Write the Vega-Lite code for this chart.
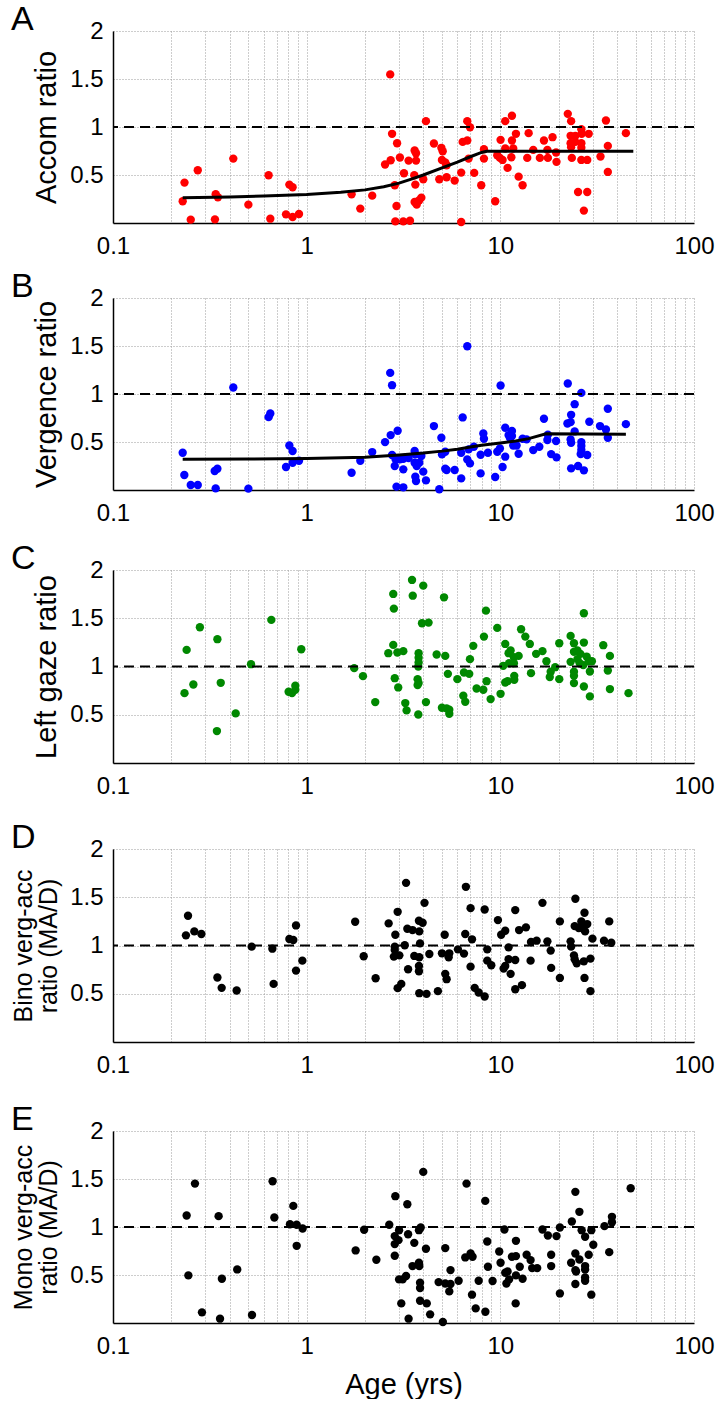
{
"$schema": "https://vega.github.io/schema/vega-lite/v6.json",
"padding": {"left": 11, "top": 3, "right": 0, "bottom": 0},
"spacing": 6,
"config": {
 "font": "Liberation Sans",
 "view": {"stroke": null},
 "axis": {"domainColor": "#000000", "domainWidth": 1.5, "ticks": false, "labelFontSize": 24, "labelColor": "#000000", "labelPadding": 10, "labelFlush": false, "labelBound": false, "titleFontSize": 29, "titleFontWeight": "normal", "titleColor": "#000000", "gridColor": "#9a9a9a", "gridDash": [1, 2], "gridWidth": 1, "labelFont": "Liberation Sans", "titleFont": "Liberation Sans"},
 "title": {"fontSize": 34, "fontWeight": "normal", "anchor": "start", "frame": "group", "dx": -102, "offset": -18, "color": "#000000", "font": "Liberation Sans", "baseline": "alphabetic"}
},
"datasets": {
 "A_pts": [{"age":0.234,"ratio":0.421},{"age":0.274,"ratio":0.55},{"age":0.229,"ratio":0.226},{"age":0.252,"ratio":0.035},{"age":0.418,"ratio":0.671},{"age":0.339,"ratio":0.299},{"age":0.348,"ratio":0.268},{"age":0.336,"ratio":0.038},{"age":0.5,"ratio":0.191},{"age":0.636,"ratio":0.497},{"age":0.649,"ratio":0.045},{"age":0.814,"ratio":0.4},{"age":0.846,"ratio":0.372},{"age":0.782,"ratio":0.09},{"age":0.846,"ratio":0.063},{"age":0.913,"ratio":0.094},{"age":1.706,"ratio":0.299},{"age":1.892,"ratio":0.15},{"age":2.18,"ratio":0.285},{"age":2.7,"ratio":1.548},{"age":2.76,"ratio":0.929},{"age":2.93,"ratio":0.831},{"age":2.715,"ratio":0.654},{"age":2.54,"ratio":0.609},{"age":2.85,"ratio":0.393},{"age":2.91,"ratio":0.177},{"age":2.87,"ratio":0.017},{"age":3.03,"ratio":0.682},{"age":3.155,"ratio":0.017},{"age":3.415,"ratio":0.024},{"age":3.18,"ratio":0.518},{"age":3.36,"ratio":0.65},{"age":3.61,"ratio":0.755},{"age":3.67,"ratio":0.727},{"age":3.67,"ratio":0.65},{"age":3.595,"ratio":0.497},{"age":3.64,"ratio":0.4},{"age":3.61,"ratio":0.219},{"age":3.7,"ratio":0.191},{"age":3.815,"ratio":0.237},{"age":3.91,"ratio":0.264},{"age":4.0,"ratio":0.456},{"age":4.13,"ratio":1.061},{"age":4.54,"ratio":0.828},{"age":4.96,"ratio":0.783},{"age":5.04,"ratio":0.748},{"age":4.995,"ratio":0.657},{"age":5.195,"ratio":0.63},{"age":5.28,"ratio":0.602},{"age":4.84,"ratio":0.456},{"age":5.28,"ratio":0.477},{"age":5.81,"ratio":0.442},{"age":6.28,"ratio":0.525},{"age":6.28,"ratio":0.01},{"age":6.39,"ratio":0.845},{"age":6.75,"ratio":0.859},{"age":6.75,"ratio":1.061},{"age":6.97,"ratio":0.998},{"age":6.86,"ratio":0.671},{"age":7.33,"ratio":0.522},{"age":7.97,"ratio":0.393},{"age":8.23,"ratio":0.769},{"age":8.23,"ratio":0.671},{"age":9.41,"ratio":0.226},{"age":9.64,"ratio":0.706},{"age":9.95,"ratio":0.678},{"age":10.03,"ratio":0.866},{"age":10.27,"ratio":0.657},{"age":10.6,"ratio":1.061},{"age":11.48,"ratio":1.117},{"age":10.6,"ratio":0.776},{"age":11.48,"ratio":0.859},{"age":10.9,"ratio":0.574},{"age":11.4,"ratio":0.685},{"age":12.04,"ratio":0.929},{"age":11.66,"ratio":0.776},{"age":12.43,"ratio":0.483},{"age":13.03,"ratio":0.393},{"age":14.0,"ratio":0.936},{"age":13.77,"ratio":0.678},{"age":14.79,"ratio":0.762},{"age":16.0,"ratio":0.678},{"age":16.8,"ratio":0.859},{"age":17.5,"ratio":0.762},{"age":17.6,"ratio":0.678},{"age":18.6,"ratio":0.894},{"age":19.4,"ratio":0.734},{"age":19.5,"ratio":0.637},{"age":22.3,"ratio":1.137},{"age":23.2,"ratio":1.061},{"age":23.06,"ratio":0.908},{"age":23.06,"ratio":0.831},{"age":23.2,"ratio":0.79},{"age":23.4,"ratio":0.678},{"age":24.4,"ratio":0.908},{"age":24.4,"ratio":0.845},{"age":26.2,"ratio":0.977},{"age":26.3,"ratio":0.929},{"age":26.2,"ratio":0.831},{"age":26.2,"ratio":0.783},{"age":26.2,"ratio":0.657},{"age":25.2,"ratio":0.323},{"age":28.1,"ratio":0.323},{"age":27.0,"ratio":0.129},{"age":28.6,"ratio":0.929},{"age":28.1,"ratio":0.657},{"age":32.9,"ratio":0.692},{"age":35.1,"ratio":1.068},{"age":35.9,"ratio":0.803},{"age":35.9,"ratio":0.532},{"age":44.5,"ratio":0.936}],
 "A_fit": [{"age":0.229,"ratio":0.262},{"age":0.4,"ratio":0.272},{"age":0.6,"ratio":0.282},{"age":1,"ratio":0.297},{"age":1.5,"ratio":0.32},{"age":2,"ratio":0.345},{"age":2.5,"ratio":0.378},{"age":3,"ratio":0.415},{"age":3.5,"ratio":0.46},{"age":4,"ratio":0.5},{"age":5,"ratio":0.575},{"age":6,"ratio":0.635},{"age":7,"ratio":0.69},{"age":8,"ratio":0.735},{"age":8.5,"ratio":0.748},{"age":48.6,"ratio":0.748}],
 "B_pts": [{"age":0.229,"ratio":0.388},{"age":0.2335,"ratio":0.156},{"age":0.252,"ratio":0.052},{"age":0.274,"ratio":0.052},{"age":0.418,"ratio":1.068},{"age":0.335,"ratio":0.198},{"age":0.346,"ratio":0.222},{"age":0.339,"ratio":0.017},{"age":0.5,"ratio":0.014},{"age":0.636,"ratio":0.759},{"age":0.649,"ratio":0.797},{"age":0.814,"ratio":0.464},{"age":0.846,"ratio":0.406},{"age":0.782,"ratio":0.239},{"age":0.846,"ratio":0.284},{"age":0.913,"ratio":0.305},{"age":1.706,"ratio":0.18},{"age":1.892,"ratio":0.305},{"age":2.18,"ratio":0.395},{"age":2.7,"ratio":1.22},{"age":2.76,"ratio":1.092},{"age":2.54,"ratio":0.499},{"age":2.715,"ratio":0.572},{"age":2.95,"ratio":0.617},{"age":2.76,"ratio":0.364},{"age":2.88,"ratio":0.319},{"age":2.85,"ratio":0.25},{"age":2.91,"ratio":0.035},{"age":3.155,"ratio":0.028},{"age":3.03,"ratio":0.319},{"age":3.155,"ratio":0.326},{"age":3.36,"ratio":0.333},{"age":3.155,"ratio":0.215},{"age":3.61,"ratio":0.406},{"age":3.64,"ratio":0.371},{"age":3.61,"ratio":0.284},{"age":3.7,"ratio":0.25},{"age":3.815,"ratio":0.284},{"age":3.91,"ratio":0.354},{"age":3.64,"ratio":0.139},{"age":3.67,"ratio":0.094},{"age":4.0,"ratio":0.191},{"age":4.13,"ratio":0.1},{"age":4.54,"ratio":0.666},{"age":4.84,"ratio":0.008},{"age":4.96,"ratio":0.544},{"age":4.995,"ratio":0.371},{"age":5.195,"ratio":0.399},{"age":5.195,"ratio":0.222},{"age":5.28,"ratio":0.208},{"age":5.81,"ratio":0.208},{"age":6.28,"ratio":0.121},{"age":6.28,"ratio":0.388},{"age":6.39,"ratio":0.756},{"age":6.75,"ratio":1.497},{"age":6.75,"ratio":0.319},{"age":6.97,"ratio":0.277},{"age":6.86,"ratio":0.423},{"age":7.3,"ratio":0.451},{"age":7.91,"ratio":0.367},{"age":7.91,"ratio":0.173},{"age":8.17,"ratio":0.589},{"age":8.23,"ratio":0.534},{"age":8.63,"ratio":0.388},{"age":9.41,"ratio":0.135},{"age":9.64,"ratio":0.399},{"age":9.95,"ratio":0.433},{"age":10.03,"ratio":1.088},{"age":10.27,"ratio":0.239},{"age":10.6,"ratio":0.347},{"age":10.6,"ratio":0.648},{"age":11.2,"ratio":0.544},{"age":11.48,"ratio":0.614},{"age":11.03,"ratio":0.572},{"age":11.48,"ratio":0.562},{"age":11.66,"ratio":0.464},{"age":12.13,"ratio":0.464},{"age":12.43,"ratio":0.378},{"age":13.03,"ratio":0.534},{"age":13.67,"ratio":0.527},{"age":14.79,"ratio":0.416},{"age":15.9,"ratio":0.451},{"age":16.8,"ratio":0.742},{"age":17.5,"ratio":0.52},{"age":17.6,"ratio":0.575},{"age":18.3,"ratio":0.374},{"age":19.5,"ratio":0.34},{"age":19.4,"ratio":0.51},{"age":22.3,"ratio":1.109},{"age":22.2,"ratio":0.693},{"age":23.06,"ratio":0.707},{"age":23.2,"ratio":0.783},{"age":23.06,"ratio":0.527},{"age":23.2,"ratio":0.492},{"age":24.2,"ratio":0.894},{"age":24.2,"ratio":0.61},{"age":23.2,"ratio":0.225},{"age":25.2,"ratio":0.25},{"age":27.0,"ratio":0.205},{"age":26.2,"ratio":1.012},{"age":26.2,"ratio":0.499},{"age":26.2,"ratio":0.458},{"age":26.2,"ratio":0.416},{"age":26.0,"ratio":0.374},{"age":28.1,"ratio":0.364},{"age":28.8,"ratio":0.711},{"age":32.7,"ratio":0.666},{"age":35.1,"ratio":0.631},{"age":35.9,"ratio":0.846},{"age":35.9,"ratio":0.544},{"age":44.5,"ratio":0.686}],
 "B_fit": [{"age":0.229,"ratio":0.32},{"age":0.5,"ratio":0.322},{"age":1,"ratio":0.327},{"age":2,"ratio":0.34},{"age":3,"ratio":0.365},{"age":4,"ratio":0.385},{"age":5,"ratio":0.405},{"age":6,"ratio":0.425},{"age":7,"ratio":0.447},{"age":8,"ratio":0.465},{"age":10,"ratio":0.49},{"age":12,"ratio":0.51},{"age":14,"ratio":0.535},{"age":17.2,"ratio":0.585},{"age":44.5,"ratio":0.58}],
 "C_pts": [{"age":0.24,"ratio":1.172},{"age":0.234,"ratio":0.724},{"age":0.26,"ratio":0.814},{"age":0.281,"ratio":1.407},{"age":0.346,"ratio":1.283},{"age":0.36,"ratio":0.831},{"age":0.344,"ratio":0.331},{"age":0.43,"ratio":0.514},{"age":0.516,"ratio":1.024},{"age":0.657,"ratio":1.483},{"age":0.938,"ratio":1.179},{"age":0.807,"ratio":0.738},{"age":0.84,"ratio":0.724},{"age":0.874,"ratio":0.759},{"age":0.874,"ratio":0.8},{"age":1.76,"ratio":0.983},{"age":1.953,"ratio":0.9},{"age":2.26,"ratio":0.631},{"age":2.64,"ratio":1.138},{"age":2.8,"ratio":1.224},{"age":2.94,"ratio":1.145},{"age":2.8,"ratio":1.752},{"age":2.82,"ratio":1.6},{"age":2.85,"ratio":0.879},{"age":2.97,"ratio":0.783},{"age":3.155,"ratio":1.159},{"age":3.5,"ratio":1.897},{"age":3.53,"ratio":1.734},{"age":4.0,"ratio":1.838},{"age":3.94,"ratio":1.448},{"age":4.26,"ratio":1.455},{"age":3.785,"ratio":1.138},{"age":3.785,"ratio":1.09},{"age":3.785,"ratio":1.041},{"age":3.77,"ratio":1.0},{"age":3.74,"ratio":0.869},{"age":3.785,"ratio":0.828},{"age":3.74,"ratio":0.807},{"age":3.23,"ratio":0.621},{"age":3.28,"ratio":0.545},{"age":3.77,"ratio":0.503},{"age":4.13,"ratio":0.631},{"age":4.69,"ratio":1.124},{"age":5.195,"ratio":1.11},{"age":5.12,"ratio":1.717},{"age":5.36,"ratio":0.924},{"age":4.995,"ratio":0.572},{"age":5.28,"ratio":0.566},{"age":5.45,"ratio":0.552},{"age":5.45,"ratio":0.51},{"age":6.0,"ratio":0.869},{"age":6.44,"ratio":0.697},{"age":6.59,"ratio":0.634},{"age":6.49,"ratio":0.938},{"age":6.91,"ratio":0.924},{"age":6.97,"ratio":1.076},{"age":7.25,"ratio":1.214},{"age":7.54,"ratio":0.772},{"age":8.17,"ratio":0.759},{"age":8.23,"ratio":1.31},{"age":8.49,"ratio":0.848},{"age":8.43,"ratio":1.579},{"age":8.91,"ratio":0.662},{"age":9.64,"ratio":1.4},{"age":10.03,"ratio":0.717},{"age":10.35,"ratio":1.007},{"age":10.6,"ratio":1.234},{"age":10.6,"ratio":0.834},{"age":10.9,"ratio":0.848},{"age":11.03,"ratio":1.138},{"age":11.3,"ratio":1.166},{"age":11.1,"ratio":1.034},{"age":11.75,"ratio":1.097},{"age":11.75,"ratio":1.034},{"age":12.43,"ratio":1.11},{"age":11.8,"ratio":0.903},{"age":11.8,"ratio":0.862},{"age":12.8,"ratio":1.386},{"age":13.46,"ratio":1.31},{"age":14.2,"ratio":1.234},{"age":14.4,"ratio":0.931},{"age":15.3,"ratio":1.131},{"age":16.5,"ratio":1.159},{"age":17.3,"ratio":1.055},{"age":18.2,"ratio":0.945},{"age":18.0,"ratio":0.89},{"age":19.2,"ratio":0.993},{"age":20.15,"ratio":1.241},{"age":20.15,"ratio":0.869},{"age":23.06,"ratio":1.317},{"age":24.0,"ratio":1.241},{"age":23.06,"ratio":1.048},{"age":24.0,"ratio":1.152},{"age":25.0,"ratio":1.166},{"age":25.0,"ratio":1.076},{"age":24.0,"ratio":0.945},{"age":24.0,"ratio":0.903},{"age":24.0,"ratio":0.828},{"age":25.9,"ratio":1.131},{"age":27.0,"ratio":1.248},{"age":27.0,"ratio":1.552},{"age":25.7,"ratio":1.034},{"age":26.8,"ratio":1.014},{"age":27.9,"ratio":1.103},{"age":28.6,"ratio":1.055},{"age":27.0,"ratio":0.793},{"age":29.0,"ratio":0.948},{"age":29.0,"ratio":0.69},{"age":29.7,"ratio":1.055},{"age":34.0,"ratio":1.221},{"age":36.8,"ratio":1.11},{"age":35.9,"ratio":0.959},{"age":36.8,"ratio":0.766},{"age":45.9,"ratio":0.724}],
 "D_pts": [{"age":0.238,"ratio":1.105},{"age":0.244,"ratio":1.308},{"age":0.263,"ratio":1.146},{"age":0.286,"ratio":1.119},{"age":0.346,"ratio":0.668},{"age":0.364,"ratio":0.561},{"age":0.435,"ratio":0.534},{"age":0.52,"ratio":0.988},{"age":0.665,"ratio":0.967},{"age":0.675,"ratio":0.602},{"age":0.814,"ratio":1.067},{"age":0.853,"ratio":1.057},{"age":0.881,"ratio":1.208},{"age":0.881,"ratio":0.74},{"age":0.95,"ratio":0.843},{"age":1.78,"ratio":1.246},{"age":1.97,"ratio":0.888},{"age":2.27,"ratio":0.661},{"age":2.65,"ratio":1.229},{"age":2.87,"ratio":1.112},{"age":2.85,"ratio":0.988},{"age":2.85,"ratio":0.954},{"age":2.82,"ratio":0.885},{"age":2.95,"ratio":1.349},{"age":2.95,"ratio":0.558},{"age":3.01,"ratio":0.898},{"age":3.08,"ratio":0.602},{"age":3.26,"ratio":1.649},{"age":3.21,"ratio":1.002},{"age":3.31,"ratio":1.174},{"age":3.52,"ratio":1.16},{"age":3.34,"ratio":0.754},{"age":3.595,"ratio":0.892},{"age":3.815,"ratio":0.878},{"age":3.8,"ratio":1.256},{"age":3.97,"ratio":1.236},{"age":3.815,"ratio":1.146},{"age":3.85,"ratio":1.022},{"age":3.8,"ratio":0.788},{"age":3.8,"ratio":0.733},{"age":3.815,"ratio":0.506},{"age":4.16,"ratio":0.499},{"age":4.06,"ratio":1.442},{"age":4.3,"ratio":0.912},{"age":4.76,"ratio":0.527},{"age":4.995,"ratio":0.919},{"age":5.195,"ratio":0.706},{"age":5.28,"ratio":0.651},{"age":5.16,"ratio":1.112},{"age":5.45,"ratio":0.919},{"age":5.41,"ratio":0.878},{"age":6.04,"ratio":0.96},{"age":6.49,"ratio":0.916},{"age":6.59,"ratio":1.119},{"age":6.64,"ratio":1.608},{"age":7.02,"ratio":1.387},{"age":7.14,"ratio":1.064},{"age":7.02,"ratio":0.781},{"age":7.37,"ratio":0.561},{"age":7.73,"ratio":0.513},{"age":8.3,"ratio":0.472},{"age":8.3,"ratio":1.373},{"age":8.56,"ratio":0.96},{"age":8.56,"ratio":0.843},{"age":8.98,"ratio":0.795},{"age":9.72,"ratio":1.263},{"age":10.1,"ratio":1.112},{"age":10.6,"ratio":1.153},{"age":11.03,"ratio":0.981},{"age":11.03,"ratio":0.857},{"age":11.94,"ratio":0.85},{"age":10.6,"ratio":0.788},{"age":10.4,"ratio":0.761},{"age":11.3,"ratio":0.706},{"age":11.94,"ratio":1.367},{"age":11.94,"ratio":0.547},{"age":12.93,"ratio":0.589},{"age":12.5,"ratio":1.16},{"age":13.56,"ratio":1.188},{"age":14.33,"ratio":0.843},{"age":14.4,"ratio":1.036},{"age":15.4,"ratio":1.05},{"age":16.5,"ratio":1.442},{"age":17.5,"ratio":1.043},{"age":18.2,"ratio":0.947},{"age":18.3,"ratio":0.768},{"age":20.3,"ratio":1.25},{"age":20.3,"ratio":0.664},{"age":23.06,"ratio":1.043},{"age":23.2,"ratio":0.988},{"age":24.4,"ratio":1.484},{"age":24.2,"ratio":1.201},{"age":25.4,"ratio":1.181},{"age":24.0,"ratio":0.898},{"age":24.2,"ratio":0.857},{"age":24.8,"ratio":0.816},{"age":26.2,"ratio":1.25},{"age":27.2,"ratio":1.339},{"age":26.8,"ratio":1.174},{"age":27.4,"ratio":1.146},{"age":28.1,"ratio":1.222},{"age":27.0,"ratio":0.836},{"age":29.2,"ratio":0.864},{"age":27.2,"ratio":0.664},{"age":29.2,"ratio":0.527},{"age":29.9,"ratio":1.071},{"age":34.3,"ratio":1.05},{"age":36.5,"ratio":1.25},{"age":37.4,"ratio":1.029}],
 "E_pts": [{"age":0.24,"ratio":1.12},{"age":0.245,"ratio":0.496},{"age":0.265,"ratio":1.452},{"age":0.351,"ratio":1.113},{"age":0.365,"ratio":0.461},{"age":0.438,"ratio":0.558},{"age":0.667,"ratio":1.477},{"age":0.681,"ratio":1.099},{"age":0.853,"ratio":1.22},{"age":0.82,"ratio":1.029},{"age":0.888,"ratio":1.023},{"age":0.953,"ratio":0.984},{"age":0.888,"ratio":0.804},{"age":1.79,"ratio":0.756},{"age":1.98,"ratio":0.971},{"age":2.29,"ratio":0.659},{"age":2.67,"ratio":1.023},{"age":2.87,"ratio":1.321},{"age":2.85,"ratio":0.905},{"age":2.85,"ratio":0.822},{"age":2.85,"ratio":0.7},{"age":3.0,"ratio":0.967},{"age":3.0,"ratio":0.454},{"age":0.288,"ratio":0.111},{"age":0.357,"ratio":0.045},{"age":0.522,"ratio":0.083},{"age":2.98,"ratio":0.863},{"age":3.31,"ratio":1.237},{"age":3.34,"ratio":0.925},{"age":3.595,"ratio":0.835},{"age":3.8,"ratio":0.967},{"age":3.88,"ratio":0.995},{"age":4.0,"ratio":1.574},{"age":4.13,"ratio":0.773},{"age":3.8,"ratio":0.627},{"age":3.815,"ratio":0.593},{"age":3.52,"ratio":0.593},{"age":3.13,"ratio":0.454},{"age":3.26,"ratio":0.489},{"age":3.85,"ratio":0.419},{"age":3.85,"ratio":0.364},{"age":3.85,"ratio":0.232},{"age":5.195,"ratio":0.78},{"age":5.53,"ratio":0.551},{"age":4.8,"ratio":0.426},{"age":5.195,"ratio":0.412},{"age":5.53,"ratio":0.406},{"age":5.45,"ratio":0.329},{"age":6.09,"ratio":0.44},{"age":6.69,"ratio":1.452},{"age":6.59,"ratio":0.683},{"age":7.02,"ratio":0.724},{"age":7.19,"ratio":0.69},{"age":7.14,"ratio":0.295},{"age":7.73,"ratio":0.44},{"age":8.36,"ratio":1.272},{"age":8.56,"ratio":0.849},{"age":8.63,"ratio":0.586},{"age":9.12,"ratio":0.437},{"age":9.87,"ratio":0.745},{"age":10.03,"ratio":0.627},{"age":10.5,"ratio":0.974},{"age":10.6,"ratio":0.523},{"age":10.9,"ratio":0.537},{"age":10.75,"ratio":0.412},{"age":11.1,"ratio":0.454},{"age":11.48,"ratio":0.69},{"age":12.04,"ratio":0.697},{"age":12.04,"ratio":0.856},{"age":12.04,"ratio":0.496},{"age":12.6,"ratio":0.586},{"age":13.03,"ratio":0.461},{"age":13.67,"ratio":0.711},{"age":14.33,"ratio":0.655},{"age":14.6,"ratio":0.572},{"age":15.5,"ratio":0.572},{"age":16.5,"ratio":0.974},{"age":17.6,"ratio":0.912},{"age":18.3,"ratio":0.711},{"age":18.3,"ratio":0.593},{"age":19.5,"ratio":0.905},{"age":20.3,"ratio":0.995},{"age":20.3,"ratio":0.308},{"age":23.4,"ratio":1.057},{"age":23.2,"ratio":0.627},{"age":24.4,"ratio":1.366},{"age":24.4,"ratio":0.724},{"age":24.4,"ratio":0.551},{"age":24.6,"ratio":0.537},{"age":24.4,"ratio":0.406},{"age":25.6,"ratio":1.158},{"age":25.6,"ratio":0.662},{"age":26.3,"ratio":0.967},{"age":27.4,"ratio":0.898},{"age":27.4,"ratio":0.593},{"age":27.4,"ratio":0.558},{"age":27.4,"ratio":0.475},{"age":27.4,"ratio":0.44},{"age":28.6,"ratio":0.711},{"age":29.5,"ratio":0.967},{"age":29.5,"ratio":0.295},{"age":30.2,"ratio":0.815},{"age":34.5,"ratio":1.009},{"age":36.5,"ratio":0.738},{"age":37.7,"ratio":1.106},{"age":37.7,"ratio":1.05},{"age":47.1,"ratio":1.404},{"age":3.08,"ratio":0.204},{"age":4.17,"ratio":0.204},{"age":4.34,"ratio":0.09},{"age":3.36,"ratio":0.045},{"age":5.05,"ratio":0.01},{"age":7.46,"ratio":0.152},{"age":8.37,"ratio":0.117},{"age":12.0,"ratio":0.204}],
 "one": [{"ratio": 1}]
},
"vconcat": [
 {"width": 581, "height": 192, "title": {"text": "A"},
  "layer": [
   {"data": {"name": "A_pts"}, "mark": {"type": "circle", "size": 70, "color": "#ff0000", "opacity": 1},
    "encoding": {"x": {"field": "age", "type": "quantitative", "scale": {"type": "log", "domain": [0.1, 100]}, "axis": {"title": null, "grid": true, "labelOverlap": false, "ticks": true, "tickSize": 40, "tickColor": "transparent", "labelPadding": -29, "values": [0.1,0.2,0.3,0.4,0.5,0.6,0.7,0.8,0.9,1,2,3,4,5,6,7,8,9,10,20,30,40,50,60,70,80,90,100], "labelExpr": "datum.value == 0.1 ? '0.1' : datum.value == 1 ? '1' : datum.value == 10 ? '10' : datum.value == 100 ? '100' : ''"}},
     "y": {"field": "ratio", "type": "quantitative", "scale": {"domain": [0, 2]}, "axis": {"title": "Accom ratio", "titlePadding": 8, "values": [0.5, 1, 1.5, 2], "format": "~g", "grid": true}}}},
   {"data": {"name": "one"}, "mark": {"type": "rule", "strokeDash": [10, 6], "strokeWidth": 2, "color": "#000000"},
    "encoding": {"y": {"field": "ratio", "type": "quantitative", "scale": {"domain": [0, 2]}, "axis": {"title": "Accom ratio", "titlePadding": 8, "values": [0.5, 1, 1.5, 2], "format": "~g", "grid": true}}}},
   {"data": {"name": "A_fit"}, "mark": {"type": "line", "color": "#000000", "strokeWidth": 3},
    "encoding": {"x": {"field": "age", "type": "quantitative", "scale": {"type": "log", "domain": [0.1, 100]}},
     "y": {"field": "ratio", "type": "quantitative", "scale": {"domain": [0, 2]}}}}
  ]},
 {"width": 581, "height": 192, "title": {"text": "B"},
  "layer": [
   {"data": {"name": "B_pts"}, "mark": {"type": "circle", "size": 70, "color": "#0000ff", "opacity": 1},
    "encoding": {"x": {"field": "age", "type": "quantitative", "scale": {"type": "log", "domain": [0.1, 100]}, "axis": {"title": null, "grid": true, "labelOverlap": false, "ticks": true, "tickSize": 45, "tickColor": "transparent", "labelPadding": -34, "values": [0.1,0.2,0.3,0.4,0.5,0.6,0.7,0.8,0.9,1,2,3,4,5,6,7,8,9,10,20,30,40,50,60,70,80,90,100], "labelExpr": "datum.value == 0.1 ? '0.1' : datum.value == 1 ? '1' : datum.value == 10 ? '10' : datum.value == 100 ? '100' : ''"}},
     "y": {"field": "ratio", "type": "quantitative", "scale": {"domain": [0, 2]}, "axis": {"title": "Vergence ratio", "titlePadding": 8, "values": [0.5, 1, 1.5, 2], "format": "~g", "grid": true}}}},
   {"data": {"name": "one"}, "mark": {"type": "rule", "strokeDash": [10, 6], "strokeWidth": 2, "color": "#000000"},
    "encoding": {"y": {"field": "ratio", "type": "quantitative", "scale": {"domain": [0, 2]}, "axis": {"title": "Vergence ratio", "titlePadding": 8, "values": [0.5, 1, 1.5, 2], "format": "~g", "grid": true}}}},
   {"data": {"name": "B_fit"}, "mark": {"type": "line", "color": "#000000", "strokeWidth": 3},
    "encoding": {"x": {"field": "age", "type": "quantitative", "scale": {"type": "log", "domain": [0.1, 100]}},
     "y": {"field": "ratio", "type": "quantitative", "scale": {"domain": [0, 2]}}}}
  ]},
 {"width": 581, "height": 193, "title": {"text": "C"},
  "layer": [
   {"data": {"name": "C_pts"}, "mark": {"type": "circle", "size": 70, "color": "#008800", "opacity": 1},
    "encoding": {"x": {"field": "age", "type": "quantitative", "scale": {"type": "log", "domain": [0.1, 100]}, "axis": {"title": null, "grid": true, "labelOverlap": false, "ticks": true, "tickSize": 51, "tickColor": "transparent", "labelPadding": -40, "values": [0.1,0.2,0.3,0.4,0.5,0.6,0.7,0.8,0.9,1,2,3,4,5,6,7,8,9,10,20,30,40,50,60,70,80,90,100], "labelExpr": "datum.value == 0.1 ? '0.1' : datum.value == 1 ? '1' : datum.value == 10 ? '10' : datum.value == 100 ? '100' : ''"}},
     "y": {"field": "ratio", "type": "quantitative", "scale": {"domain": [0, 2]}, "axis": {"title": "Left gaze ratio", "titlePadding": 8, "values": [0.5, 1, 1.5, 2], "format": "~g", "grid": true}}}},
   {"data": {"name": "one"}, "mark": {"type": "rule", "strokeDash": [10, 6], "strokeWidth": 2, "color": "#000000"},
    "encoding": {"y": {"field": "ratio", "type": "quantitative", "scale": {"domain": [0, 2]}, "axis": {"title": "Left gaze ratio", "titlePadding": 8, "values": [0.5, 1, 1.5, 2], "format": "~g", "grid": true}}}}
  ]},
 {"width": 581, "height": 193, "title": {"text": "D"},
  "layer": [
   {"data": {"name": "D_pts"}, "mark": {"type": "circle", "size": 70, "color": "#000000", "opacity": 1},
    "encoding": {"x": {"field": "age", "type": "quantitative", "scale": {"type": "log", "domain": [0.1, 100]}, "axis": {"title": null, "grid": true, "labelOverlap": false, "ticks": true, "tickSize": 54, "tickColor": "transparent", "labelPadding": -43, "values": [0.1,0.2,0.3,0.4,0.5,0.6,0.7,0.8,0.9,1,2,3,4,5,6,7,8,9,10,20,30,40,50,60,70,80,90,100], "labelExpr": "datum.value == 0.1 ? '0.1' : datum.value == 1 ? '1' : datum.value == 10 ? '10' : datum.value == 100 ? '100' : ''"}},
     "y": {"field": "ratio", "type": "quantitative", "scale": {"domain": [0, 2]}, "axis": {"title": ["Bino verg-acc", "ratio (MA/D)"], "titleFontSize": 25, "titleLineHeight": 25, "titlePadding": 8, "values": [0.5, 1, 1.5, 2], "format": "~g", "grid": true}}}},
   {"data": {"name": "one"}, "mark": {"type": "rule", "strokeDash": [10, 6], "strokeWidth": 2, "color": "#000000"},
    "encoding": {"y": {"field": "ratio", "type": "quantitative", "scale": {"domain": [0, 2]}, "axis": {"title": ["Bino verg-acc", "ratio (MA/D)"], "titleFontSize": 25, "titleLineHeight": 25, "titlePadding": 8, "values": [0.5, 1, 1.5, 2], "format": "~g", "grid": true}}}}
  ]},
 {"width": 581, "height": 192, "title": {"text": "E"},
  "layer": [
   {"data": {"name": "E_pts"}, "mark": {"type": "circle", "size": 70, "color": "#000000", "opacity": 1},
    "encoding": {"x": {"field": "age", "type": "quantitative", "scale": {"type": "log", "domain": [0.1, 100]}, "axis": {"title": "Age (yrs)", "titlePadding": 12, "labelPadding": 11, "grid": true, "labelOverlap": false, "values": [0.1,0.2,0.3,0.4,0.5,0.6,0.7,0.8,0.9,1,2,3,4,5,6,7,8,9,10,20,30,40,50,60,70,80,90,100], "labelExpr": "datum.value == 0.1 ? '0.1' : datum.value == 1 ? '1' : datum.value == 10 ? '10' : datum.value == 100 ? '100' : ''"}},
     "y": {"field": "ratio", "type": "quantitative", "scale": {"domain": [0, 2]}, "axis": {"title": ["Mono verg-acc", "ratio (MA/D)"], "titleFontSize": 25, "titleLineHeight": 25, "titlePadding": 8, "values": [0.5, 1, 1.5, 2], "format": "~g", "grid": true}}}},
   {"data": {"name": "one"}, "mark": {"type": "rule", "strokeDash": [10, 6], "strokeWidth": 2, "color": "#000000"},
    "encoding": {"y": {"field": "ratio", "type": "quantitative", "scale": {"domain": [0, 2]}, "axis": {"title": ["Mono verg-acc", "ratio (MA/D)"], "titleFontSize": 25, "titleLineHeight": 25, "titlePadding": 8, "values": [0.5, 1, 1.5, 2], "format": "~g", "grid": true}}}}
  ]}
]
}
